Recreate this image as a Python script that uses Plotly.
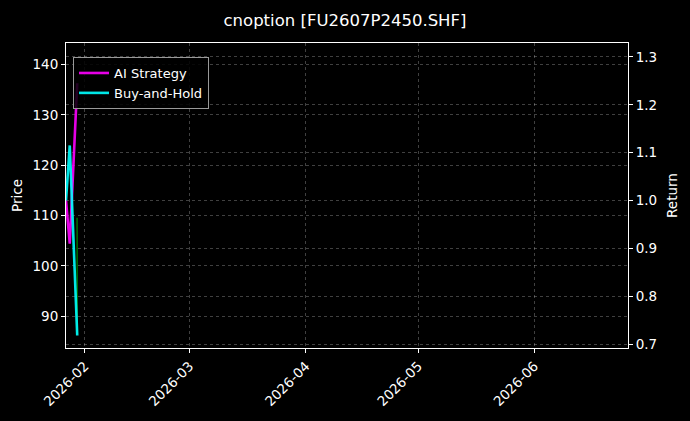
import plotly.graph_objs as go

# values
dates = ["2026-01-27", "2026-01-28", "2026-01-30"]
ai_strategy = [1.00, 0.91, 1.245]
buy_and_hold = [1.00, 1.115, 0.718]

price_dates = ["2026-01-29 23:00", "2026-01-30 00:00"]
price = [109.6, 86.5]

month_ticks = ["2026-02-01", "2026-03-01", "2026-04-01", "2026-05-01", "2026-06-01"]
month_labels = ["2026-02", "2026-03", "2026-04", "2026-05", "2026-06"]
price_ticks = [90, 100, 110, 120, 130, 140]
return_ticks = [0.7, 0.8, 0.9, 1.0, 1.1, 1.2, 1.3]


def make_chart():
    fig = go.Figure()
    fig.add_trace(go.Scatter(x=price_dates, y=price, mode='lines', name='Price',
                             line=dict(color='rgba(0,150,0,0.75)', width=1.5),
                             showlegend=False, yaxis='y'))
    fig.add_trace(go.Scatter(x=dates, y=ai_strategy, mode='lines', name='AI Strategy',
                             line=dict(color='rgba(255,0,255,0.9)', width=2.6), yaxis='y2'))
    fig.add_trace(go.Scatter(x=dates, y=buy_and_hold, mode='lines', name='Buy-and-Hold',
                             line=dict(color='rgba(0,255,255,0.9)', width=2.6), yaxis='y2'))

    grid = 'rgba(255,255,255,0.25)'
    dash = '3px,3px'
    fig.update_layout(
        width=690, height=421,
        margin=dict(l=66, r=61, t=43, b=70),
        paper_bgcolor='black', plot_bgcolor='black',
        font=dict(family='DejaVu Sans', color='white', size=13.5),
        title=dict(text='cnoption [FU2607P2450.SHF]', x=0.5, xanchor='center',
                   y=0.953, yanchor='middle', font=dict(size=16.5, color='white')),
        xaxis=dict(type='date', range=['2026-01-27', '2026-06-26'],
                   tickvals=month_ticks, ticktext=month_labels, tickangle=-45,
                   ticks='outside', ticklen=4, tickcolor='white',
                   showline=True, linecolor='white', linewidth=1, mirror=True,
                   showgrid=True, gridcolor=grid, griddash=dash, gridwidth=0.6,
                   zeroline=False),
        yaxis=dict(title=dict(text='Price', font=dict(size=13.5), standoff=6),
                   range=[83.7, 144.3], tickvals=price_ticks,
                   ticks='outside', ticklen=4, tickcolor='white',
                   showline=True, linecolor='white', linewidth=1,
                   showgrid=True, gridcolor=grid, griddash=dash, gridwidth=0.6,
                   zeroline=False),
        yaxis2=dict(title=dict(text='Return', font=dict(size=13.5), standoff=11),
                    overlaying='y', side='right',
                    range=[0.692, 1.329], tickvals=return_ticks, tickformat='.1f',
                    ticks='outside', ticklen=4, tickcolor='white',
                    showline=True, linecolor='white', linewidth=1,
                    showgrid=True, gridcolor=grid, griddash=dash, gridwidth=0.6,
                    zeroline=False),
        legend=dict(x=0.0125, y=0.954, xanchor='left', yanchor='top',
                    bgcolor='rgba(0,0,0,0.85)', bordercolor='#999999', borderwidth=1,
                    font=dict(size=13, color='white'), tracegroupgap=0,
                    itemwidth=30),
    )
    return fig


fig = make_chart()
fig.write_html("out.html", config={'displayModeBar': False},
               post_script="document.body.style.margin='0';document.body.style.background='black';")
